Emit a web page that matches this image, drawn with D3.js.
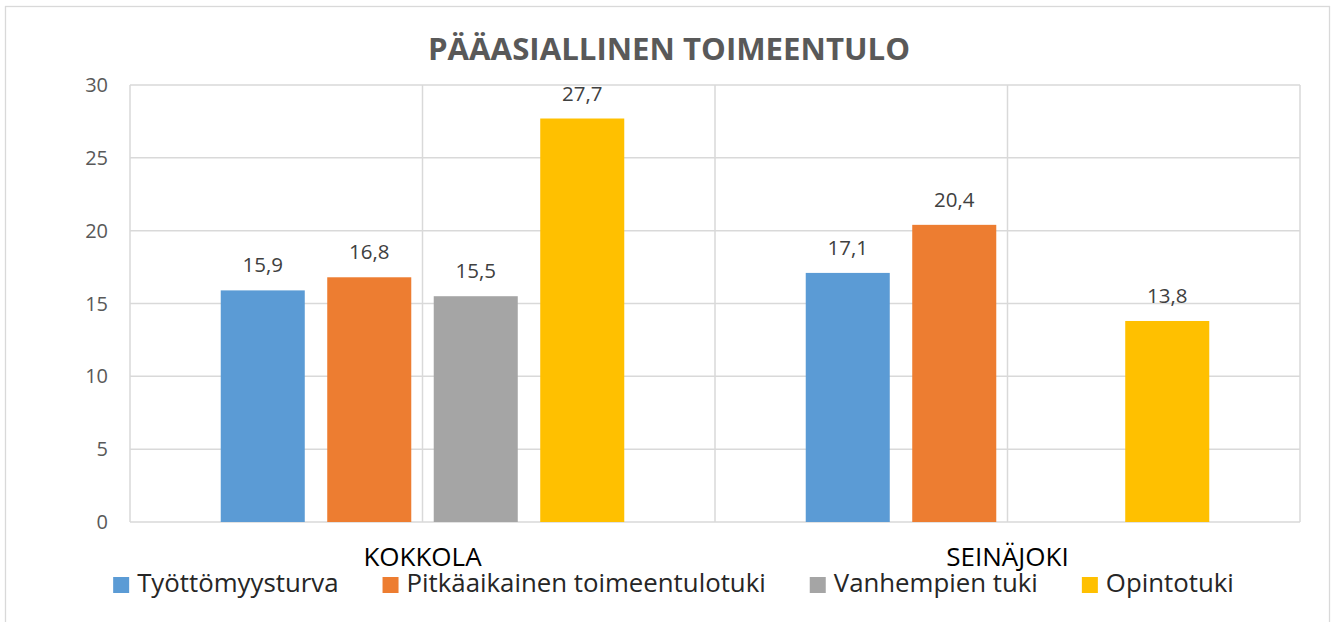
<!DOCTYPE html>
<html>
<head>
<meta charset="utf-8">
<script src="https://cdn.jsdelivr.net/npm/d3@7"></script>
<style>
  body { margin: 0; background: #fff; }
  svg { display: block; font-family: "Open Sans", "Noto Sans", sans-serif; }
</style>
</head>
<body>
<svg id="chart" width="1336" height="622"></svg>
<script>
const title = "PÄÄASIALLINEN TOIMEENTULO";
const cities = ["KOKKOLA", "SEINÄJOKI"];
const seriesNames = ["Työttömyysturva", "Pitkäaikainen toimeentulotuki", "Vanhempien tuki", "Opintotuki"];
const seriesColors = ["#5B9BD5", "#ED7D31", "#A5A5A5", "#FFC000"];
// one row per city, in series order; null = no bar
const kokkolaValues = [15.9, 16.8, 15.5, 27.7];
const seinajokiValues = [17.1, 20.4, null, 13.8];
const yTicks = [0, 5, 10, 15, 20, 25, 30];

const valuesByCity = [kokkolaValues, seinajokiValues];
const gridColor = "#d9d9d9";

const svg = d3.select("#chart");
const plot = { left: 130, right: 1300, top: 85, bottom: 522 };

// outer frame
svg.append("rect")
  .attr("x", 5.5).attr("y", 6.5)
  .attr("width", 1324).attr("height", 640)
  .attr("fill", "none").attr("stroke", gridColor).attr("stroke-width", 1.3);

svg.append("text")
  .attr("x", 669).attr("y", 60)
  .attr("text-anchor", "middle")
  .attr("font-size", 31.2).attr("font-weight", 700)
  .attr("fill", "#595959")
  .text(title);

const y = d3.scaleLinear().domain([0, 30]).range([plot.bottom, plot.top]);
const x0 = d3.scaleBand().domain(cities).range([plot.left, plot.right]).padding(0);
const x1 = d3.scaleBand().domain(seriesNames).range([0, x0.bandwidth()])
  .paddingInner(0.211).paddingOuter(0.852);

// horizontal gridlines
svg.append("g")
  .selectAll("line")
  .data(yTicks)
  .join("line")
  .attr("x1", plot.left).attr("x2", plot.right)
  .attr("y1", (d) => y(d)).attr("y2", (d) => y(d))
  .attr("stroke", gridColor).attr("stroke-width", 1.5);

// vertical gridlines: band edges and centres
const vLines = [];
cities.forEach((c) => {
  vLines.push(x0(c));
  vLines.push(x0(c) + x0.bandwidth() / 2);
});
vLines.push(x0(cities[cities.length - 1]) + x0.bandwidth());

svg.append("g")
  .selectAll("line")
  .data(vLines)
  .join("line")
  .attr("x1", (d) => d).attr("x2", (d) => d)
  .attr("y1", plot.top).attr("y2", plot.bottom)
  .attr("stroke", gridColor).attr("stroke-width", 1.5);

// y tick labels
svg.append("g")
  .selectAll("text")
  .data(yTicks)
  .join("text")
  .attr("x", 108).attr("y", (d) => y(d))
  .attr("dy", "0.35em")
  .attr("text-anchor", "end")
  .attr("font-size", 20)
  .attr("fill", "#595959")
  .text((d) => d);

// bars
const barData = [];
cities.forEach((city, ci) => {
  seriesNames.forEach((name, si) => {
    const v = valuesByCity[ci][si];
    if (v != null) barData.push({ city, name, value: v, color: seriesColors[si] });
  });
});

svg.append("g")
  .selectAll("rect")
  .data(barData)
  .join("rect")
  .attr("x", (d) => x0(d.city) + x1(d.name))
  .attr("y", (d) => y(d.value))
  .attr("width", x1.bandwidth())
  .attr("height", (d) => y(0) - y(d.value))
  .attr("fill", (d) => d.color);

const fmt = (v) => v.toFixed(1).replace(".", ",");

svg.append("g")
  .selectAll("text")
  .data(barData)
  .join("text")
  .attr("x", (d) => x0(d.city) + x1(d.name) + x1.bandwidth() / 2)
  .attr("y", (d) => y(d.value) - 18)
  .attr("text-anchor", "middle")
  .attr("font-size", 20.5)
  .attr("fill", "#404040")
  .text((d) => fmt(d.value));

// category labels
svg.append("g")
  .selectAll("text")
  .data(cities)
  .join("text")
  .attr("x", (d) => x0(d) + x0.bandwidth() / 2)
  .attr("y", 566)
  .attr("text-anchor", "middle")
  .attr("font-size", 26)
  .attr("fill", "#000")
  .text((d) => d);

// legend
const legend = svg.append("g");
const items = legend.selectAll("g")
  .data(seriesNames)
  .join("g");

items.append("rect")
  .attr("width", 16).attr("height", 16)
  .attr("y", 577)
  .attr("fill", (d, i) => seriesColors[i]);

items.append("text")
  .attr("x", 24).attr("y", 592)
  .attr("font-size", 25.8)
  .attr("fill", "#262626")
  .text((d) => d);

let cursor = 0;
const offsets = [];
items.each(function () {
  offsets.push(cursor);
  const w = d3.select(this).select("text").node().getComputedTextLength();
  cursor += 24 + w + 44;
});
const totalWidth = cursor - 44;
const startX = 673.5 - totalWidth / 2;
items.attr("transform", (d, i) => `translate(${startX + offsets[i]},0)`);
</script>
</body>
</html>
